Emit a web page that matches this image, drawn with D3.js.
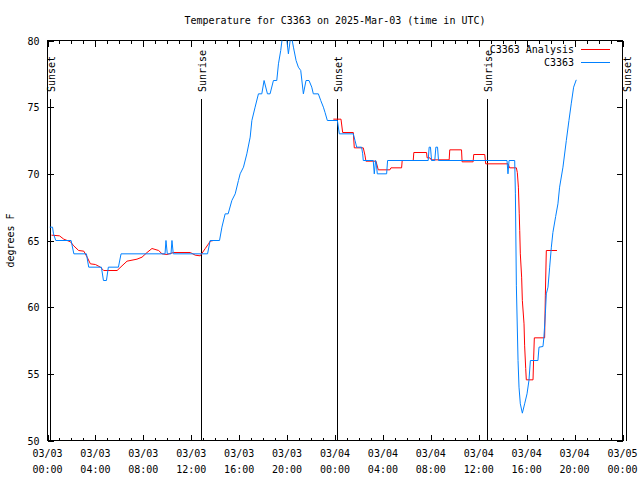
<!DOCTYPE html>
<html>
<head>
<meta charset="utf-8">
<script src="https://cdn.jsdelivr.net/npm/d3@7"></script>
<style>
  html, body { margin: 0; padding: 0; background: #fff; }
  svg { display: block; }
  text { font-family: "DejaVu Sans Mono", "Liberation Mono", monospace; font-size: 10px; fill: #000; }
</style>
</head>
<body>
<script>
// ---- Data (hours after 2025-03-03 00:00 UTC, temperatures in degrees F) ----
const obsHours = [0.19,0.42,0.5,0.69,1.97,2.2,3.25,3.44,4.5,4.67,4.92,5.08,5.92,6.14,9.81,9.89,10.0,10.31,10.39,10.5,
  13.36,13.58,14.36,14.56,14.83,15.08,15.39,15.67,15.94,16.08,16.36,16.64,16.92,17.06,17.33,17.61,17.89,18.08,18.36,18.58,
  18.86,19.14,19.28,19.47,19.64,19.92,20.11,20.33,20.53,20.75,20.94,21.14,21.36,21.58,21.83,22.06,22.19,22.61,22.81,23.03,
  23.17,23.36,24.2,24.36,25.53,25.67,25.81,26.22,26.31,26.36,27.19,27.28,27.39,27.47,27.53,28.31,28.39,31.78,31.86,31.97,
  32.06,32.33,32.42,32.56,32.64,38.36,38.44,38.53,39.0,39.06,39.14,39.28,39.36,39.47,39.64,39.83,40.03,40.19,40.31,40.94,
  41.03,41.36,41.44,41.56,41.64,41.78,41.92,42.06,42.19,42.42,42.61,42.75,43.03,43.31,43.53,43.72,43.92,44.14];
const obsTemps = [66.0,66.0,65.5,65.0,65.0,64.0,64.0,63.0,63.0,62.0,62.0,63.0,63.0,64.0,64.0,65.0,64.0,64.0,65.0,64.0,
  64.0,65.0,65.0,66.0,67.0,67.0,68.0,68.5,69.5,70.0,70.5,71.5,72.75,74.0,75.0,76.0,76.0,77.0,76.0,76.0,
  77.0,77.0,78.25,79.25,80.5,80.5,79.0,80.5,79.5,78.5,78.0,77.75,76.0,77.0,77.0,76.5,76.0,76.0,75.5,75.0,
  74.6,74.0,74.0,73.0,73.0,72.5,72.0,72.0,71.5,71.0,71.0,70.0,71.0,70.6,70.0,70.0,71.0,71.0,72.0,72.0,
  71.0,71.0,72.0,72.0,71.0,71.0,70.0,71.0,71.0,68.5,61.6,56.0,54.0,52.75,52.05,52.75,53.5,54.5,56.0,56.0,
  57.0,57.05,57.75,59.5,61.0,61.5,63.0,64.5,65.6,66.8,67.75,69.0,70.5,72.5,74.0,75.25,76.5,77.05];

const anaHours = [0.33,1.0,1.36,1.92,2.19,2.6,3.03,3.31,3.58,4.0,4.42,4.69,5.81,6.22,6.64,7.47,7.89,8.31,8.72,9.28,
  9.56,9.97,10.53,11.92,12.33,12.75,13.17,13.44,13.58,13.86,18.0,
  23.86,24.5,24.64,25.53,25.61,26.36,26.5,26.58,27.42,27.61,28.58,28.67,29.56,29.61,30.53,30.58,31.64,31.69,31.92,
  32.03,33.53,33.58,34.56,34.61,35.53,35.58,36.5,36.58,38.44,38.58,39.14,39.22,39.31,39.38,39.42,39.47,39.58,39.64,
  39.78,39.83,39.92,39.97,40.53,40.58,40.64,41.5,41.56,41.64,42.53];
const anaTemps = [65.4,65.35,65.1,64.9,64.6,64.25,64.2,63.75,63.25,63.2,63.0,62.75,62.75,63.1,63.45,63.6,63.75,64.1,64.4,64.25,
  64.0,63.95,64.1,64.1,63.9,63.85,64.4,64.75,64.95,65.0,null,
  74.1,74.1,73.1,73.1,71.95,71.95,71.4,70.95,70.95,70.3,70.3,70.45,70.45,71.0,71.0,71.6,71.6,71.2,71.2,
  71.05,71.05,71.8,71.8,70.9,70.9,71.45,71.45,70.75,70.75,70.45,70.45,70.1,69.0,67.0,65.75,64.0,62.25,60.5,
  58.75,57.1,55.4,54.55,54.55,56.1,57.7,57.7,60.9,64.25,64.25];

const sunLabels = ["Sunset","Sunrise","Sunset","Sunrise","Sunset"];
const sunHours  = [0.21, 12.81, 24.19, 36.71, 48.29];

const xTickHours = [0,4,8,12,16,20,24,28,32,36,40,44,48];
const yTickValues = [50,55,60,65,70,75,80];
const seriesNames = ["C3363 Analysis","C3363"];
const seriesColors = ["#ff0000","#0080ff"];
const titleText = "Temperature for C3363 on 2025-Mar-03 (time in UTC)";
const yLabelText = "degrees F";

// ---- Layout ----
const W = 640, H = 480;
const L = 47.5, R = 622.5, T = 40.5, B = 440.5;
const t0 = Date.UTC(2025, 2, 3);
const toDate = h => new Date(t0 + h * 3600e3);

const x = d3.scaleUtc().domain([toDate(0), toDate(48)]).range([L, R]);
const y = d3.scaleLinear().domain([50, 80]).range([B, T]);

const svg = d3.select("body").append("svg").attr("width", W).attr("height", H);

svg.append("defs").append("clipPath").attr("id", "plotclip")
  .append("rect").attr("x", L).attr("y", T).attr("width", R - L).attr("height", B - T);

// Title
svg.append("text").attr("x", (L + R) / 2).attr("y", 24).attr("text-anchor", "middle").text(titleText);

// Y label
svg.append("text").attr("transform", `translate(14,${(T + B) / 2}) rotate(-90)`)
  .attr("text-anchor", "middle").text(yLabelText);

// Axes (ticks inward, mirrored)
function styleAxis(g) {
  g.select(".domain").remove();
  g.selectAll("line").attr("stroke", "#000").attr("shape-rendering", "crispEdges");
}
const minorTicks = d3.range(0, 49).map(toDate);
const majorTicks = xTickHours.map(toDate);

svg.append("g").attr("transform", `translate(0,${B})`)
  .call(d3.axisBottom(x).tickValues(minorTicks).tickSize(-3).tickFormat(""))
  .call(styleAxis);
svg.append("g").attr("transform", `translate(0,${B})`)
  .call(d3.axisBottom(x).tickValues(majorTicks).tickSize(-6).tickFormat(""))
  .call(styleAxis);
svg.append("g").attr("transform", `translate(0,${T})`)
  .call(d3.axisTop(x).tickValues(minorTicks).tickSize(-3).tickFormat(""))
  .call(styleAxis);
svg.append("g").attr("transform", `translate(0,${T})`)
  .call(d3.axisTop(x).tickValues(majorTicks).tickSize(-6).tickFormat(""))
  .call(styleAxis);

const yl = svg.append("g").attr("transform", `translate(${L},0)`)
  .call(d3.axisLeft(y).tickValues(yTickValues).tickSize(-6).tickPadding(8).tickFormat(d3.format("d")))
  .call(styleAxis);
yl.selectAll("text").attr("font-family", null).attr("font-size", null).attr("dy", "0.35em");
svg.append("g").attr("transform", `translate(${R},0)`)
  .call(d3.axisRight(y).tickValues(yTickValues).tickSize(-6).tickFormat(""))
  .call(styleAxis);

// X tick labels (two lines)
const fmtD = d3.utcFormat("%m/%d"), fmtT = d3.utcFormat("%H:%M");
const xl = svg.append("g");
majorTicks.forEach(d => {
  const t = xl.append("text").attr("text-anchor", "middle");
  t.append("tspan").attr("x", x(d)).attr("y", 457).text(fmtD(d));
  t.append("tspan").attr("x", x(d)).attr("y", 473).text(fmtT(d));
});

// Border
svg.append("rect").attr("x", L).attr("y", T).attr("width", R - L).attr("height", B - T)
  .attr("fill", "none").attr("stroke", "#000").attr("shape-rendering", "crispEdges");

// Sunrise / sunset markers
sunHours.forEach((h, i) => {
  const sx = Math.round(x(toDate(h))) + 0.5;
  svg.append("line").attr("x1", sx).attr("x2", sx).attr("y1", 99).attr("y2", B)
    .attr("stroke", "#000").attr("shape-rendering", "crispEdges");
  svg.append("text").attr("transform", `translate(${sx + 4},92) rotate(-90)`)
    .attr("text-anchor", "start").text(sunLabels[i]);
});

// Data lines
const line = d3.line()
  .defined(d => d.v !== null)
  .x(d => x(toDate(d.h)))
  .y(d => y(d.v));

const ana = anaHours.map((h, i) => ({ h, v: anaTemps[i] }));
const obs = obsHours.map((h, i) => ({ h, v: obsTemps[i] }));

const plot = svg.append("g").attr("clip-path", "url(#plotclip)");
plot.append("path").datum(ana).attr("d", line)
  .attr("fill", "none").attr("stroke", seriesColors[0]).attr("stroke-width", 1);
plot.append("path").datum(obs).attr("d", line)
  .attr("fill", "none").attr("stroke", seriesColors[1]).attr("stroke-width", 1);

// Legend
seriesNames.forEach((name, i) => {
  const ly = 49.5 + i * 13;
  svg.append("text").attr("x", 574).attr("y", ly).attr("dy", "0.35em")
    .attr("text-anchor", "end").text(name);
  svg.append("line").attr("x1", 581).attr("x2", 610).attr("y1", ly).attr("y2", ly)
    .attr("stroke", seriesColors[i]).attr("stroke-width", 1);
});
</script>
</body>
</html>
